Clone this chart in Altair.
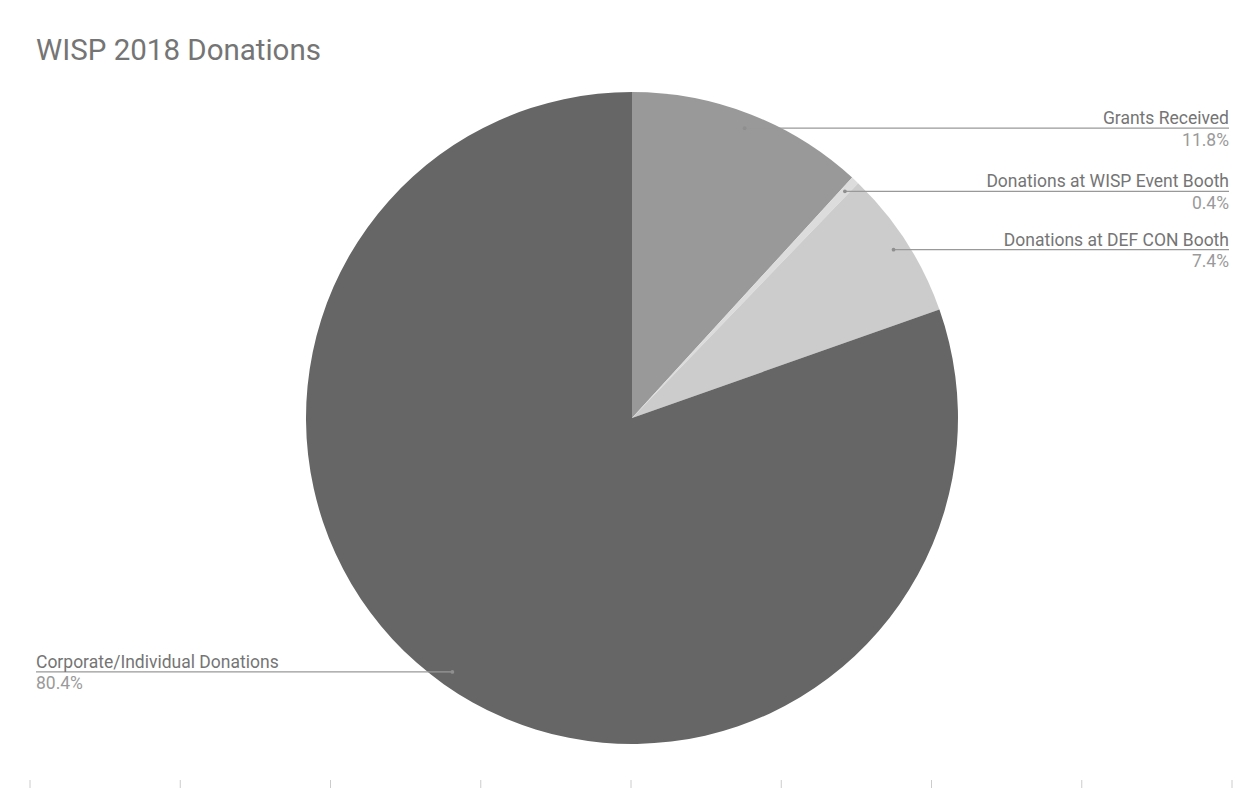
import altair as alt
import numpy as np
import pandas as pd

# ---- data ----
TITLE = "WISP 2018 Donations"
categories = [
    "Grants Received",
    "Donations at WISP Event Booth",
    "Donations at DEF CON Booth",
    "Corporate/Individual Donations",
]
shares = [11.8, 0.4, 7.4, 80.4]
pct_labels = ["11.8%", "0.4%", "7.4%", "80.4%"]
tick_index = [0, 1, 2, 3, 4, 5, 6, 7, 8]

# ---- style / layout ----
colors = ["#999999", "#dcdcdc", "#cccccc", "#666666"]
W, H = 1244, 780
CX, CY, R = 624, 410, 326
DOT_R = 311
RIGHT_X, LEFT_X = 1221, 28
FONT = "Roboto"
LABEL_SIZE = 17.5

df = pd.DataFrame({"category": categories, "share": shares,
                   "pct": pct_labels, "order": list(range(len(categories)))})
mid = np.cumsum(shares) - np.array(shares) / 2
ang = mid / sum(shares) * 2 * np.pi
df["px"] = CX + DOT_R * np.sin(ang)
df["py"] = CY - DOT_R * np.cos(ang)
df["side"] = np.where(np.sin(ang) >= 0, "right", "left")
df["lx"] = np.where(df["side"] == "right", RIGHT_X, LEFT_X)

xs = alt.Scale(domain=[0, W], range=[0, W])
ys = alt.Scale(domain=[0, H], range=[0, H])

base = alt.Chart(df)

pie = base.mark_arc(outerRadius=R, x=CX, y=CY).encode(
    theta=alt.Theta("share:Q", stack=True),
    color=alt.Color("category:N", scale=alt.Scale(domain=categories, range=colors), legend=None),
    order=alt.Order("order:Q"),
)

leaders = base.mark_rule(color="#999999", strokeWidth=1.2).encode(
    x=alt.X("px:Q", scale=xs, axis=None),
    x2="lx:Q",
    y=alt.Y("py:Q", scale=ys, axis=None),
)

dots = base.mark_circle(size=14, color="#8f8f8f", opacity=1).encode(
    x=alt.X("px:Q", scale=xs, axis=None),
    y=alt.Y("py:Q", scale=ys, axis=None),
)

def labels(side, align):
    b = base.transform_filter(alt.datum.side == side)
    name = b.mark_text(align=align, baseline="alphabetic", dy=-4, font=FONT,
                       fontSize=LABEL_SIZE, color="#757575").encode(
        x=alt.X("lx:Q", scale=xs, axis=None),
        y=alt.Y("py:Q", scale=ys, axis=None),
        text="category:N",
    )
    pct = b.mark_text(align=align, baseline="alphabetic", dy=17.5, font=FONT,
                      fontSize=LABEL_SIZE, color="#9a9a9a").encode(
        x=alt.X("lx:Q", scale=xs, axis=None),
        y=alt.Y("py:Q", scale=ys, axis=None),
        text="pct:N",
    )
    return name + pct

title = alt.Chart(pd.DataFrame({"t": [TITLE]})).mark_text(
    align="left", baseline="alphabetic", font=FONT, fontSize=29.5, color="#757575"
).encode(text="t:N", x=alt.value(LEFT_X), y=alt.value(52))

ticks = alt.Chart(pd.DataFrame({"i": tick_index})).mark_rule(color="#cccccc", strokeWidth=1).encode(
    x=alt.X("i:Q", scale=alt.Scale(domain=[0, 8], range=[22, 1224]), axis=None),
    y=alt.value(772),
    y2=alt.value(780),
)

chart = alt.layer(
    pie, leaders, dots, labels("right", "right"), labels("left", "left"), title, ticks
).resolve_scale(x="independent").properties(
    width=W, height=H, padding=0, autosize=alt.AutoSizeParams(type="none")
).configure_view(stroke=None)

chart.save("out.html", embed_options={"renderer": "svg", "actions": False})
